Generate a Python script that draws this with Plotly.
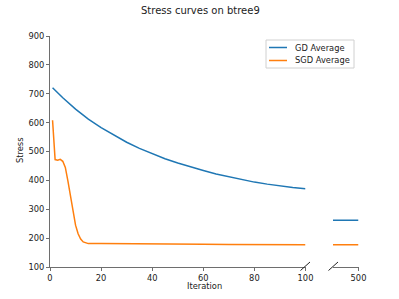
import plotly.graph_objects as go

# ---- data ----
gd_iter = [1, 5, 10, 15, 20, 25, 30, 35, 40, 45, 50, 55, 60, 65, 70, 75, 80, 85, 90, 95, 100]
gd_vals = [721, 686, 647, 612, 583, 556, 532, 511, 492, 475, 460, 446, 434, 422, 412, 402, 394, 387, 380, 375, 371]

sgd_iter = [1, 2, 3, 4, 5, 6, 7, 8, 9, 10, 11, 12, 13, 14, 15, 20, 30, 40, 50, 60, 70, 80, 90, 100]
sgd_vals = [608, 472, 470, 473, 466, 445, 398, 345, 292, 245, 215, 197, 187, 183, 181, 181, 181, 181, 180, 179, 178, 178, 177, 177]

tail_iter = [490, 500]
gd_tail = [262, 262]
sgd_tail = [177, 177]

x_ticks_main = [0, 20, 40, 60, 80, 100]
x_ticks_tail = [500]
y_ticks = [100, 200, 300, 400, 500, 600, 700, 800, 900]

BLUE = "#1f77b4"
ORANGE = "#ff7f0e"
AX = "#6e6e6e"
FONT = "DejaVu Sans"
W, H = 399, 299

def px(x):
    return x / W

def py(y):
    return 1 - y / H

fig = go.Figure()
fig.add_trace(go.Scatter(x=gd_iter, y=gd_vals, mode="lines", name="GD Average",
                         line=dict(color=BLUE, width=1.5), xaxis="x", yaxis="y"))
fig.add_trace(go.Scatter(x=sgd_iter, y=sgd_vals, mode="lines", name="SGD Average",
                         line=dict(color=ORANGE, width=1.5), xaxis="x", yaxis="y"))
fig.add_trace(go.Scatter(x=tail_iter, y=gd_tail, mode="lines", name="GD Average",
                         line=dict(color=BLUE, width=1.5), xaxis="x2", yaxis="y2", showlegend=False))
fig.add_trace(go.Scatter(x=tail_iter, y=sgd_tail, mode="lines", name="SGD Average",
                         line=dict(color=ORANGE, width=1.5), xaxis="x2", yaxis="y2", showlegend=False))

tickfont = dict(family=FONT, size=8.3, color="#222")
ydom = [py(267), py(36)]

fig.update_layout(
    template="none",
    width=W, height=H,
    margin=dict(l=0, r=0, t=0, b=0, autoexpand=False),
    paper_bgcolor="white", plot_bgcolor="white",
    showlegend=False,
    font=dict(family=FONT, size=8.3, color="#222"),
    xaxis=dict(domain=[px(50), px(305.5)], range=[0, 100], tickvals=x_ticks_main,
               showline=True, linecolor=AX, linewidth=1, ticks="outside", ticklen=3,
               tickcolor=AX, showgrid=False, zeroline=False, tickfont=tickfont,
               anchor="y", automargin=False),
    yaxis=dict(domain=ydom, range=[100, 900], tickvals=y_ticks,
               showline=True, linecolor=AX, linewidth=1, ticks="outside", ticklen=3,
               tickcolor=AX, showgrid=False, zeroline=False, tickfont=tickfont,
               anchor="x", automargin=False),
    xaxis2=dict(domain=[px(333), px(358.5)], range=[490, 500], tickvals=x_ticks_tail,
                showline=True, linecolor=AX, linewidth=1, ticks="outside", ticklen=3,
                tickcolor=AX, showgrid=False, zeroline=False, tickfont=tickfont,
                anchor="y2", automargin=False),
    yaxis2=dict(domain=ydom, range=[100, 900], visible=False, anchor="x2", automargin=False),
)

shapes = []
# break marks
shapes.append(dict(type="line", xref="paper", yref="paper",
                   x0=px(300.5), y0=py(270.5), x1=px(310), y1=py(262), line=dict(color="#222", width=1)))
shapes.append(dict(type="line", xref="paper", yref="paper",
                   x0=px(328.5), y0=py(270.5), x1=px(338), y1=py(262), line=dict(color="#222", width=1)))
# legend box
shapes.append(dict(type="rect", xref="paper", yref="paper",
                   x0=px(266), y0=py(68), x1=px(354), y1=py(40),
                   line=dict(color="#d0d0d0", width=1), fillcolor="rgba(255,255,255,0.8)"))
shapes.append(dict(type="line", xref="paper", yref="paper",
                   x0=px(269), y0=py(47.5), x1=px(287), y1=py(47.5), line=dict(color=BLUE, width=1.5)))
shapes.append(dict(type="line", xref="paper", yref="paper",
                   x0=px(269), y0=py(60.5), x1=px(287), y1=py(60.5), line=dict(color=ORANGE, width=1.5)))
fig.update_layout(shapes=shapes)

annotations = [
    dict(text="Stress curves on btree9", x=px(200), y=py(11), xref="paper", yref="paper",
         showarrow=False, font=dict(family=FONT, size=10, color="#222"), xanchor="center", yanchor="middle"),
    dict(text="Stress", x=px(20), y=py(150), xref="paper", yref="paper", textangle=-90,
         showarrow=False, font=dict(family=FONT, size=8.3, color="#222"), xanchor="center", yanchor="middle"),
    dict(text="Iteration", x=px(204.5), y=py(285.5), xref="paper", yref="paper",
         showarrow=False, font=dict(family=FONT, size=8.3, color="#222"), xanchor="center", yanchor="middle"),
    dict(text="GD Average", x=px(293), y=py(47.5), xref="paper", yref="paper",
         showarrow=False, font=dict(family=FONT, size=8.3, color="#222"), xanchor="left", yanchor="middle"),
    dict(text="SGD Average", x=px(293), y=py(60.5), xref="paper", yref="paper",
         showarrow=False, font=dict(family=FONT, size=8.3, color="#222"), xanchor="left", yanchor="middle"),
]
fig.update_layout(annotations=annotations)

fig.write_html("out.html", config={"displayModeBar": False},
               post_script="document.body.style.margin='0px';document.body.style.overflow='hidden';")
